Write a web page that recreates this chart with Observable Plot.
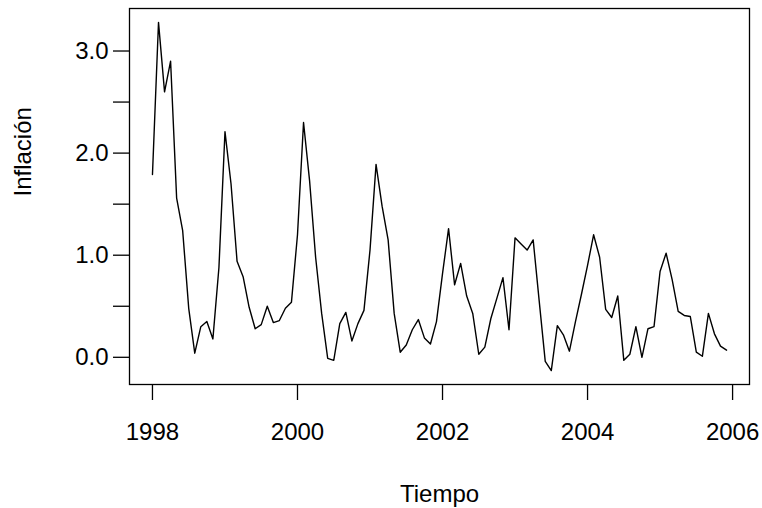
<!DOCTYPE html>
<html>
<head>
<meta charset="utf-8">
<script src="https://cdn.jsdelivr.net/npm/d3@7"></script>
<script src="https://cdn.jsdelivr.net/npm/@observablehq/plot@0.6"></script>
<style>
  html, body { margin: 0; padding: 0; background: white; }
</style>
</head>
<body>
<div id="chart"></div>
<script>
// Monthly inflation, Jan 1998 – Dec 2005
const startYear = 1998;
const inflacion = [
  1.79, 3.28, 2.60, 2.90, 1.56, 1.24, 0.48, 0.04, 0.30, 0.35, 0.18, 0.88,
  2.21, 1.70, 0.94, 0.79, 0.49, 0.28, 0.32, 0.50, 0.34, 0.36, 0.48, 0.54,
  1.20, 2.30, 1.73, 0.98, 0.43, -0.01, -0.03, 0.33, 0.44, 0.16, 0.33, 0.46,
  1.05, 1.89, 1.48, 1.15, 0.43, 0.05, 0.12, 0.27, 0.37, 0.19, 0.13, 0.35,
  0.82, 1.26, 0.71, 0.92, 0.60, 0.43, 0.03, 0.10, 0.38, 0.58, 0.78, 0.27,
  1.17, 1.11, 1.05, 1.15, 0.55, -0.04, -0.13, 0.31, 0.22, 0.06, 0.35, 0.62,
  0.90, 1.20, 0.98, 0.47, 0.39, 0.60, -0.03, 0.03, 0.30, 0.00, 0.28, 0.30,
  0.84, 1.02, 0.76, 0.45, 0.41, 0.40, 0.05, 0.01, 0.43, 0.23, 0.11, 0.07
];
const xTicks = [1998, 2000, 2002, 2004, 2006];
const yTicks = [0, 0.5, 1, 1.5, 2, 2.5, 3];
const xLabel = "Tiempo";
const yLabel = "Inflación";

const data = inflacion.map((v, i) => ({t: startYear + i / 12, v}));

// R-style 4% axis expansion
function expand([a, b]) { const p = 0.04 * (b - a); return [a - p, b + p]; }
const xDom = expand(d3.extent(data, d => d.t));
const yDom = expand(d3.extent(data, d => d.v));

const font = "'Liberation Sans', Arial, Helvetica, sans-serif";

const chart = Plot.plot({
  width: 762,
  height: 508,
  marginLeft: 129,
  marginRight: 13,
  marginTop: 8,
  marginBottom: 124,
  style: {fontFamily: font, fontSize: "24px", background: "white", color: "black"},
  x: {domain: xDom},
  y: {domain: yDom},
  marks: [
    Plot.frame({stroke: "black", strokeWidth: 1.3}),
    Plot.axisX(xTicks, {
      tickSize: 16, tickPadding: 22, tickFormat: d => String(d),
      stroke: "black", strokeWidth: 1.3, color: "black", fontSize: 24, label: null
    }),
    Plot.axisY(yTicks, {
      tickSize: 16, tickPadding: 5,
      tickFormat: d => Number.isInteger(d) ? d.toFixed(1) : "",
      stroke: "black", strokeWidth: 1.3, color: "black", fontSize: 24, label: null
    }),
    Plot.lineY(data, {x: "t", y: "v", stroke: "black", strokeWidth: 1.4}),
    Plot.text([xLabel], {frameAnchor: "bottom", dy: 110, lineAnchor: "middle", fontSize: 24, fill: "black"}),
    Plot.text([yLabel], {frameAnchor: "left", dx: -106, rotate: -90, lineAnchor: "middle", fontSize: 24, fill: "black"})
  ]
});
document.getElementById("chart").appendChild(chart);
</script>
</body>
</html>
